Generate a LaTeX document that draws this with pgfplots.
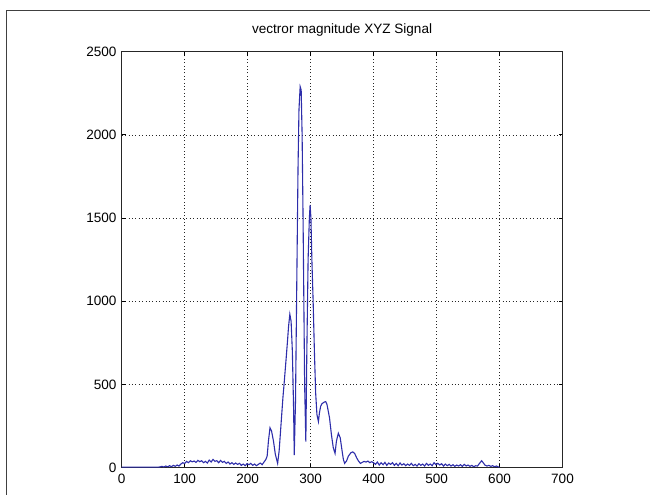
\documentclass[border=0pt]{standalone}
\usepackage{pgfplots}
\pgfplotsset{compat=1.18}
\usepackage{fontspec}
\setmainfont{Liberation Sans}
\definecolor{sig}{RGB}{45,45,170}
\begin{document}
\begin{tikzpicture}[x=1bp,y=1bp]
\useasboundingbox (0,0) rectangle (650,495);
\draw[line width=0.9bp, color=black!75] (6,0) -- (6,485) -- (650,485);
\begin{axis}[
  at={(121.7bp,27.3bp)}, anchor=south west,
  scale only axis, width=440.8bp, height=416bp,
  xmin=0, xmax=700, ymin=0, ymax=2500,
  xtick={0,100,...,700}, ytick={0,500,...,2500},
  grid=major,
  grid style={black!85, line width=0.6bp, dash pattern=on 0.8bp off 2.6bp},
  tick align=inside, major tick length=4bp,
  axis line style={line width=0.8bp, black!85},
  tick style={black, line width=0.8bp},
  font=\fontsize{13.6}{15}\selectfont,
  title={vectror magnitude XYZ Signal},
  title style={at={(0.5,1)}, anchor=south, inner sep=0pt, yshift=9bp},
  xticklabel style={inner sep=0pt, yshift=-6bp},
  yticklabel style={inner sep=0pt, xshift=-5bp},
  /pgf/number format/assume math mode=true,
  scaled ticks=false,
  /pgf/number format/set thousands separator={},
]
\addplot[color=sig, line width=1.1bp, mark=none] coordinates {
(0,3) (10,3) (20,3) (30,3) (40,3) (50,3) (60,4) (64,8) (67,4) (70,10) (73,5) (76,12) (79,6) (82,14) (85,8) (88,16) (91,10) (94,22) (97,30)
(100,25) (103,38) (106,30) (109,42) (112,35) (115,40) (118,32) (121,44) (124,36) (127,42) (130,30) (133,38) (136,28) (139,46) (142,34) (145,50) (148,38) (151,42) (154,30) (157,44) (160,32) (163,38) (166,26) (169,34) (172,22) (175,30) (178,20) (181,28) (184,20) (187,26) (190,14) (193,22) (196,12) (199,24)
(202,18) (205,26) (208,14) (211,22) (214,12) (217,20) (220,28) (223,18) (226,34) (229,50) (231,70) (233,160) (235.5,240) (238,220) (241,160) (244,80) (247.6,26)
(250,100) (253,260) (256,420) (258,509) (261,650) (263.4,767) (265,850) (267,922) (269,880) (271,700) (273,350) (274,76)
(276,400) (278,1100) (280,1800) (281.5,2150) (283.4,2290) (285,2270) (286.5,2000) (288,1500) (289.5,900) (290.5,500) (292.4,156)
(294,700) (296,1250) (298,1500) (299.2,1579) (300.5,1500) (302,1250) (304,1000) (306,700) (308,450) (310,320) (312.4,277)
(314,330) (316,370) (318,385) (320,390) (322,395) (324,397) (326,380) (328,340) (330,300) (333,200) (336,120) (338.8,86)
(341,160) (344,207) (347,180) (350,100) (352,50) (354,26) (357,40) (360,70) (364,90) (367,95) (370,85) (373,60) (376,40) (379,26)
(382,32) (385,38) (388,34) (391,40) (394,30) (397,36) (400,30) (403,20) (406,34) (409,16) (412,30) (415,18) (418,32) (421,14) (424,28) (427,20) (430,30) (433,14) (436,26) (439,12) (442,28) (445,16) (448,24) (451,12) (454,22) (457,14) (460,26) (463,12) (466,20) (469,10) (472,24) (475,14) (478,22) (481,10) (484,26) (487,14) (490,22) (493,12) (496,30) (499,18)
(502,26) (505,16) (508,24) (511,10) (514,22) (517,12) (520,20) (523,10) (526,18) (529,8) (532,16) (535,10) (538,18) (541,8) (544,20) (547,10) (550,16) (553,8) (556,14) (559,6) (562,12) (565,10) (568,25) (571.6,42) (574,30) (577,15) (580,10) (583,14) (586,8) (589,12) (592,6) (595,10) (598,5) (600,3)
};
\end{axis}
\end{tikzpicture}
\end{document}
